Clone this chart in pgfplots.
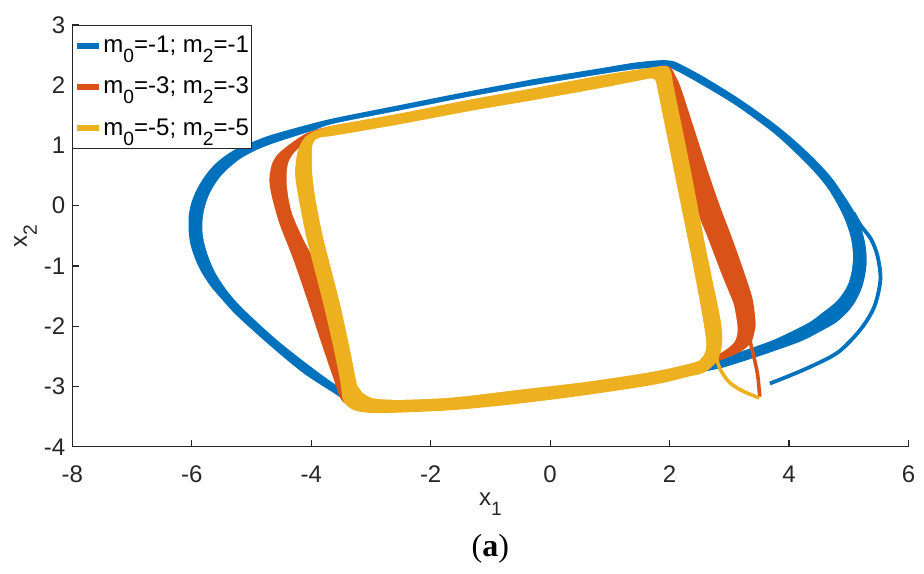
\documentclass[border=0pt]{standalone}
\usepackage{pgfplots}
\pgfplotsset{compat=1.18}
\usepackage{fontspec}
\setmainfont{Liberation Sans}
\newfontfamily\capfont{Liberation Serif}
\definecolor{mblue}{rgb}{0,0.447,0.741}
\definecolor{morange}{rgb}{0.850,0.325,0.098}
\definecolor{myellow}{rgb}{0.929,0.694,0.125}
\definecolor{axgray}{rgb}{0.15,0.15,0.15}
\newcommand\sub[1]{\raisebox{-5pt}{\fontsize{9.6}{10}\selectfont #1}}
\begin{document}
\begin{tikzpicture}
\begin{axis}[
 scale only axis, width=418.1pt, height=211pt,
 xmin=-8, xmax=6, ymin=-4, ymax=3,
 xtick={-8,-6,...,6}, ytick={-4,-3,...,3},
 axis lines*=left,
 axis line style={axgray, line width=0.6pt},
 tick align=inside, major tick length=3.5pt,
 tick style={axgray, line width=0.6pt},
 /pgf/number format/assume math mode=true,
 tick label style={font=\fontsize{12}{14}\selectfont, text=axgray},
 xticklabel style={yshift=-6pt},
 xlabel={x\sub{1}}, ylabel={x\sub{2}},
 label style={font=\fontsize{12}{14}\selectfont, text=axgray},
 xlabel style={at={(axis description cs:0.5,-0.1403)}, anchor=base},
 ylabel style={at={(axis description cs:-0.0542,0.5)}, anchor=base},
 legend style={at={(0,1)}, anchor=north west, draw=axgray, line width=0.5pt,
   font=\fontsize{12}{14}\selectfont, inner xsep=0.65pt, inner ysep=0pt,
   nodes={inner xsep=0.5pt, inner ysep=5.4pt}},
 legend image code/.code={\draw[#1, line width=3pt] (0pt,0pt) -- (11.2pt,0pt);},
 legend cell align=left,
]
% ---------------- blue band ----------------
\addplot[forget plot, smooth, fill=mblue, draw=none] coordinates {
(-0.27,2.10) (0.85,2.28) (1.40,2.37) (1.80,2.41) (1.98,2.41) (2.13,2.37) (2.55,2.15) (3.14,1.79) (3.70,1.40) (4.05,1.12) (4.40,0.80) (4.70,0.48) (4.92,0.17) (5.09,-0.10) (5.20,-0.35) (5.27,-0.60) (5.30,-0.85) (5.29,-1.05) (5.24,-1.30) (5.15,-1.52) (5.02,-1.72) (4.80,-1.93) (4.50,-2.10) (4.20,-2.25) (3.64,-2.45) (3.08,-2.63) (2.75,-2.72) (1.74,-2.90) (0.62,-3.06) (-0.49,-3.18) (-1.61,-3.28) (-2.45,-3.33) (-3.05,-3.33) (-3.35,-3.28) (-3.62,-3.11) (-4.13,-2.78) (-4.68,-2.33) (-5.24,-1.83) (-5.50,-1.55) (-5.69,-1.33) (-5.84,-1.10) (-5.94,-0.89) (-6.02,-0.65) (-6.05,-0.44) (-6.05,-0.16) (-6.00,0.07) (-5.91,0.28) (-5.78,0.49) (-5.63,0.67) (-5.45,0.82) (-5.24,0.95) (-4.95,1.07) (-4.68,1.17) (-4.18,1.31) (-3.62,1.45) (-2.51,1.67) (-1.39,1.89) (-0.27,2.10)
};
\addplot[forget plot, smooth, fill=white, draw=none] coordinates {
(-0.27,2.00) (0.85,2.18) (1.40,2.26) (1.80,2.29) (2.02,2.28) (2.58,1.98) (3.14,1.64) (3.72,1.22) (4.10,0.88) (4.42,0.56) (4.65,0.28) (4.82,0.00) (4.94,-0.25) (5.03,-0.52) (5.07,-0.80) (5.05,-1.08) (4.97,-1.34) (4.80,-1.58) (4.55,-1.78) (4.31,-1.95) (3.75,-2.22) (3.19,-2.42) (2.75,-2.56) (1.74,-2.77) (0.62,-2.93) (-0.49,-3.06) (-1.61,-3.16) (-2.45,-3.21) (-3.00,-3.19) (-3.30,-3.10) (-3.57,-2.98) (-4.02,-2.66) (-4.58,-2.22) (-5.13,-1.72) (-5.40,-1.42) (-5.60,-1.12) (-5.72,-0.85) (-5.79,-0.62) (-5.82,-0.44) (-5.82,-0.25) (-5.79,-0.06) (-5.73,0.13) (-5.64,0.31) (-5.52,0.48) (-5.37,0.63) (-5.18,0.78) (-4.92,0.92) (-4.64,1.03) (-4.30,1.14) (-3.95,1.25) (-3.62,1.36) (-2.51,1.58) (-1.39,1.80) (-0.27,2.00)
};
% ---------------- orange band ----------------
\addplot[forget plot, smooth, fill=morange, draw=none] coordinates {
(-0.27,1.94) (0.85,2.15) (1.68,2.28) (1.92,2.32) (2.02,2.29) (2.10,2.15) (2.19,1.95) (2.41,1.28) (2.645,0.56) (2.84,0.00) (3.05,-0.55) (3.25,-1.11) (3.39,-1.55) (3.44,-1.94) (3.42,-2.10) (3.37,-2.26) (3.24,-2.39) (3.02,-2.50) (2.74,-2.61) (2.47,-2.72) (1.74,-2.90) (0.62,-3.07) (-0.49,-3.20) (-1.61,-3.31) (-2.73,-3.36) (-3.20,-3.34) (-3.45,-3.27) (-3.53,-3.15) (-3.62,-2.89) (-3.85,-2.22) (-4.07,-1.55) (-4.30,-0.89) (-4.52,-0.33) (-4.62,0.00) (-4.68,0.25) (-4.70,0.45) (-4.66,0.68) (-4.57,0.84) (-4.41,0.98) (-4.20,1.13) (-4.01,1.23) (-3.62,1.33) (-2.51,1.52) (-1.39,1.74) (-0.27,1.94)
};
\addplot[forget plot, smooth, fill=white, draw=none] coordinates {
(-0.27,1.82) (0.85,2.02) (1.63,2.15) (1.80,2.10) (1.90,1.90) (2.05,1.20) (2.20,0.60) (2.30,0.32) (2.38,0.12) (2.52,-0.25) (2.645,-0.55) (2.86,-1.11) (3.00,-1.45) (3.08,-1.66) (3.14,-2.05) (3.08,-2.27) (2.86,-2.44) (2.60,-2.54) (1.74,-2.78) (0.62,-2.95) (-0.49,-3.08) (-1.61,-3.20) (-2.45,-3.24) (-2.95,-3.21) (-3.15,-3.10) (-3.25,-2.95) (-3.40,-2.40) (-3.58,-1.80) (-3.75,-1.30) (-3.92,-0.95) (-4.10,-0.62) (-4.24,-0.33) (-4.33,-0.10) (-4.38,0.12) (-4.41,0.35) (-4.41,0.56) (-4.38,0.72) (-4.30,0.86) (-4.15,1.00) (-3.95,1.12) (-3.62,1.22) (-2.51,1.42) (-1.39,1.63) (-0.27,1.82)
};
% ---------------- yellow band ----------------
\addplot[forget plot, smooth, fill=myellow, draw=none] coordinates {
(-0.27,1.95) (0.85,2.16) (1.68,2.29) (1.88,2.32) (1.98,2.30) (2.03,2.20) (2.06,2.02) (2.19,1.39) (2.36,0.56) (2.52,-0.27) (2.69,-1.11) (2.83,-1.77) (2.88,-2.11) (2.87,-2.35) (2.81,-2.55) (2.70,-2.68) (2.55,-2.78) (2.30,-2.84) (1.74,-2.97) (0.62,-3.14) (-0.49,-3.28) (-1.61,-3.39) (-2.73,-3.44) (-3.10,-3.43) (-3.29,-3.39) (-3.40,-3.32) (-3.47,-3.22) (-3.51,-2.94) (-3.62,-2.39) (-3.79,-1.66) (-3.96,-1.00) (-4.10,-0.44) (-4.21,0.12) (-4.25,0.35) (-4.27,0.56) (-4.24,0.84) (-4.18,1.02) (-4.10,1.14) (-4.00,1.21) (-3.90,1.25) (-3.62,1.33) (-2.51,1.53) (-1.39,1.75) (-0.27,1.95)
};
\addplot[forget plot, smooth, fill=white, draw=none] coordinates {
(-0.27,1.75) (0.85,1.95) (1.63,2.10) (1.72,2.10) (1.77,2.05) (1.85,1.67) (2.02,0.84) (2.19,0.00) (2.36,-0.83) (2.52,-1.67) (2.61,-2.22) (2.60,-2.42) (2.53,-2.53) (2.41,-2.60) (1.74,-2.75) (0.62,-2.92) (-0.49,-3.05) (-1.61,-3.18) (-2.45,-3.22) (-2.85,-3.21) (-3.01,-3.18) (-3.13,-3.11) (-3.20,-3.02) (-3.24,-2.94) (-3.35,-2.39) (-3.51,-1.66) (-3.68,-1.00) (-3.82,-0.44) (-3.93,0.12) (-3.98,0.50) (-3.99,0.80) (-3.98,1.00) (-3.92,1.10) (-3.80,1.14) (-3.62,1.16) (-2.51,1.35) (-1.39,1.56) (-0.27,1.75)
};
% ---------------- transients ----------------
\addplot[forget plot, smooth, mblue, line width=1.9pt] coordinates {
(3.68,-2.95) (4.25,-2.72) (4.81,-2.44) (5.20,-2.05) (5.43,-1.67) (5.53,-1.22) (5.48,-0.83) (5.37,-0.55) (5.20,-0.33) (5.08,-0.12)
};
\addplot[forget plot, smooth, morange, line width=1.8pt] coordinates {
(3.51,-3.17) (3.49,-2.95) (3.47,-2.78) (3.41,-2.50) (3.36,-2.30) (3.33,-2.15)
};
\addplot[forget plot, smooth, myellow, line width=1.8pt] coordinates {
(3.50,-3.19) (3.30,-3.11) (3.14,-3.03) (3.00,-2.93) (2.92,-2.83) (2.85,-2.72) (2.81,-2.62) (2.78,-2.50) (2.76,-2.40)
};
\addlegendimage{mblue}
\addlegendentry{m\sub{0}=-1; m\sub{2}=-1}
\addlegendimage{morange}
\addlegendentry{m\sub{0}=-3; m\sub{2}=-3}
\addlegendimage{myellow}
\addlegendentry{m\sub{0}=-5; m\sub{2}=-5}
\end{axis}
\node[anchor=base, font={\capfont\fontsize{16}{18}\selectfont}] at ([yshift=-54.8pt]current axis.south) {(\textbf{a})};
\pgfresetboundingbox
\useasboundingbox (current axis.south west) ++(-36.15pt,-63.6pt) rectangle ([shift={(7.75pt,12.4pt)}]current axis.north east);
\end{tikzpicture}
\end{document}
